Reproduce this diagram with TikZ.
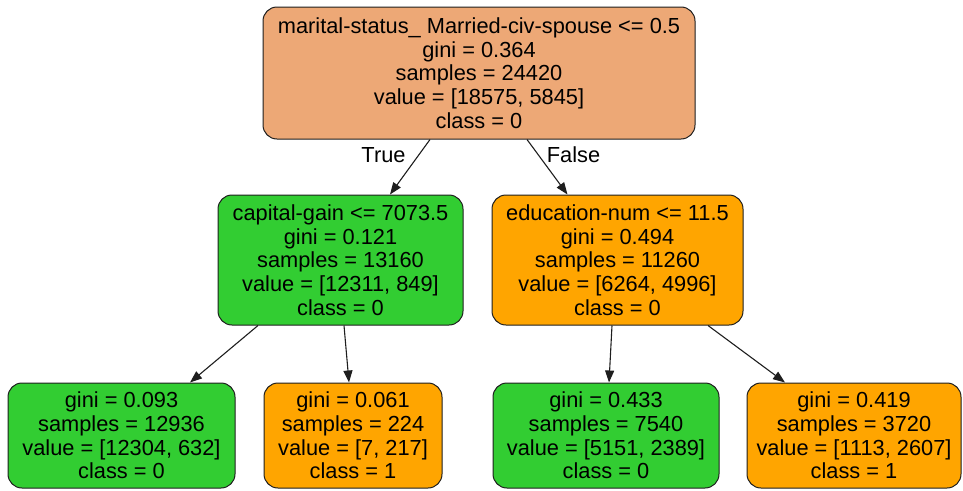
\documentclass[tikz,border=0pt]{standalone}
\usepackage{fontspec}
\setmainfont{Liberation Sans}
\usetikzlibrary{arrows.meta}
\definecolor{rootfill}{RGB}{237,168,118}
\definecolor{greenfill}{RGB}{50,205,50}
\definecolor{orangefill}{RGB}{255,165,0}
\definecolor{edgegray}{RGB}{30,30,30}
\begin{document}
\begin{tikzpicture}[x=1pt,y=1pt,
  treebox/.style={draw=edgegray, line width=1pt, rounded corners=14pt, rectangle,
    align=center, inner sep=0pt, font=\fontsize{21.8}{23.7}\selectfont},
  innerbox/.style={treebox, minimum height=130pt},
  leafbox/.style={treebox, minimum height=105pt},
  conn/.style={draw=edgegray, line width=1.1pt, -{Triangle[length=12pt,width=9pt]}},
  edgelabel/.style={font=\fontsize{21.8}{23.7}\selectfont, inner sep=0pt}
]
\useasboundingbox (0,0) rectangle (963,-490);

\node[innerbox, fill=rootfill, minimum width=432pt, minimum height=132pt] (root) at (479,-73)
  {marital-status\_ Married-civ-spouse <= 0.5\\gini = 0.364\\samples = 24420\\value = [18575, 5845]\\class = 0};

\node[innerbox, fill=greenfill, minimum width=245pt] (midL) at (340.5,-260)
  {capital-gain <= 7073.5\\gini = 0.121\\samples = 13160\\value = [12311, 849]\\class = 0};

\node[innerbox, fill=orangefill, minimum width=251pt] (midR) at (617.5,-260)
  {education-num <= 11.5\\gini = 0.494\\samples = 11260\\value = [6264, 4996]\\class = 0};

\node[leafbox, fill=greenfill, minimum width=227pt] (leafA) at (121.5,-435.5)
  {gini = 0.093\\samples = 12936\\value = [12304, 632]\\class = 0};
\node[leafbox, fill=orangefill, minimum width=178pt] (leafB) at (353,-435.5)
  {gini = 0.061\\samples = 224\\value = [7, 217]\\class = 1};
\node[leafbox, fill=greenfill, minimum width=226pt] (leafC) at (606,-435.5)
  {gini = 0.433\\samples = 7540\\value = [5151, 2389]\\class = 0};
\node[leafbox, fill=orangefill, minimum width=214pt] (leafD) at (854,-435.5)
  {gini = 0.419\\samples = 3720\\value = [1113, 2607]\\class = 1};

\draw[conn] ([xshift=-49pt]root.south) -- ([xshift=49.5pt]midL.north);
\draw[conn] ([xshift=48pt]root.south) -- ([xshift=-50pt]midR.north);
\draw[conn] ([xshift=-82.5pt]midL.south) -- ([xshift=68.5pt]leafA.north);
\draw[conn] ([xshift=3.5pt]midL.south) -- ([xshift=-4pt]leafB.north);
\draw[conn] ([xshift=-5.5pt]midR.south) -- ([xshift=3pt]leafC.north);
\draw[conn] ([xshift=90.5pt]midR.south) -- ([xshift=-69pt]leafD.north);

\node[edgelabel] (lblTrue) at (383.5,-155) {True};
\node[edgelabel] (lblFalse) at (573.5,-155) {False};
\end{tikzpicture}
\end{document}
